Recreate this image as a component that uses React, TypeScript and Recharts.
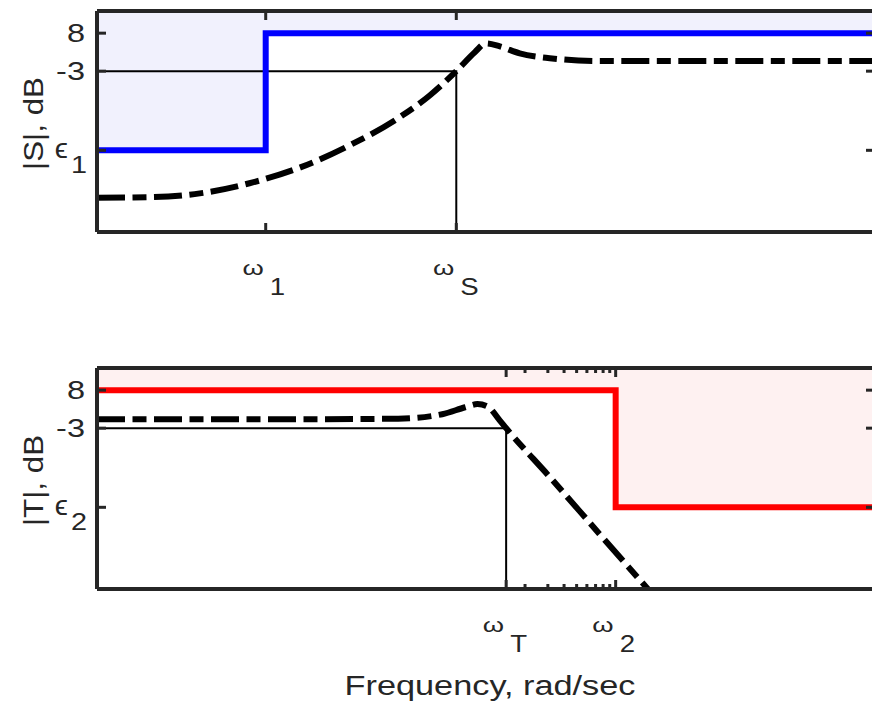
import React from 'react';
import { ComposedChart, Line, Area, XAxis, YAxis } from 'recharts';

const FONT = '"Liberation Sans", Arial, Helvetica, sans-serif';
const INK = '#262626';

// log frequency axis (rad/sec) and magnitude axis (dB)
const freqDomain = [0.001, 1000];
const dbDomain = [-28.4, 6.5];

const w1 = 0.02;
const wS = 0.59;
const wT = 1.43;
const w2 = 10;
const minorTicks = [2, 3, 4, 5, 6, 7, 8, 9];

const dbTicks = [-15.5, -3, 3];
const dbTickLabels = ['ϵ', '-3', '8'];

// |S|: lower bound (blue) and response
const sBoundFreq = [0.001, w1, 1000];
const sBoundDb = [-15.5, 3, 3];
const sFreq = [0.001, 0.0026, 0.0062, 0.015, 0.037, 0.089, 0.215, 0.37, 0.59, 0.82, 1.0, 1.28, 1.82, 3.1, 7.5, 1000];
const sDb = [-23.0, -22.9, -22.3, -20.7, -18.2, -14.7, -10.3, -6.8, -3.0, 0.0, 1.4, 0.9, -0.2, -0.95, -1.4, -1.4];

// |T|: upper bound (red) and response
const tBoundFreq = [0.001, w2, 1000];
const tBoundDb = [3, -15.5, -15.5];
const tFreq = [0.001, 0.036, 0.21, 0.46, 0.69, 0.86, 1.03, 1.28, 1.43, 3.1, 7.5, 44];
const tDb = [-1.6, -1.6, -1.5, -0.8, 0.3, 0.8, 0.4, -1.8, -3.0, -10.7, -19.7, -37.6];

const topTicks = [w1, wS];
const topTickSubs = ['1', 'S'];
const bottomTicks = [wT, ...minorTicks, w2];
const bottomTickSubs = ['T', '', '', '', '', '', '', '', '', '2'];

const W = 880;
const PLOT_LEFT = 97;
const PLOT_RIGHT = 875;

const StretchText = ({ x, y, size, anchor = 'start', sx = 1.3, rotate = false, children }: any) => (
  <text
    transform={`translate(${x} ${y})${rotate ? ' rotate(-90)' : ''} scale(${sx} 1)`}
    textAnchor={anchor}
    fontSize={size}
    fontFamily={FONT}
    fill={INK}
  >
    {children}
  </text>
);

const Panel = ({
  top, height, plotTop, plotBottom, bound, response, guide, color, fill,
  xTicks, xSubs, yName, epsSub, xTitle,
}: any) => {
  const freqTick = (p: any) => {
    const x = p.x;
    const sub = xSubs[xTicks.indexOf(p.payload.value)];
    const len = sub ? 9 : 5;
    return (
      <g>
        <line x1={x} x2={x} y1={plotBottom} y2={plotBottom - len} stroke={INK} strokeWidth={3} />
        <line x1={x} x2={x} y1={plotTop} y2={plotTop + len} stroke={INK} strokeWidth={3} />
        {sub ? (
          <>
            <StretchText x={x - 2} y={plotBottom + 43} size={21} anchor="end">ω</StretchText>
            <StretchText x={x + 4} y={plotBottom + 63} size={23} sx={1.2}>{sub}</StretchText>
          </>
        ) : null}
      </g>
    );
  };

  const dbTick = (p: any) => {
    const y = p.y;
    const lab = dbTickLabels[dbTicks.indexOf(p.payload.value)];
    return (
      <g>
        <line x1={PLOT_LEFT} x2={PLOT_LEFT + 9} y1={y} y2={y} stroke={INK} strokeWidth={3} />
        <line x1={PLOT_RIGHT} x2={PLOT_RIGHT - 9} y1={y} y2={y} stroke={INK} strokeWidth={3} />
        {lab === 'ϵ' ? (
          <>
            <StretchText x={68} y={y + 8} size={27} anchor="end" sx={1.1}>ϵ</StretchText>
            <StretchText x={71} y={y + 23} size={24} sx={1.2}>{epsSub}</StretchText>
          </>
        ) : (
          <StretchText x={85} y={y + 9} size={25} anchor="end">{lab}</StretchText>
        )}
      </g>
    );
  };

  const frame = { stroke: INK, strokeWidth: 4 };

  return (
    <div style={{ position: 'absolute', left: 0, top }}>
      <ComposedChart width={W} height={height} margin={{ top: 0, right: 0, bottom: 0, left: 0 }}>
        <Area
          data={bound}
          dataKey="band"
          type="stepAfter"
          fill={fill}
          fillOpacity={1}
          stroke="none"
          isAnimationActive={false}
        />
        <XAxis
          dataKey="f"
          type="number"
          scale="log"
          domain={freqDomain}
          ticks={xTicks}
          interval={0}
          allowDataOverflow
          height={height - plotBottom}
          tickLine={false}
          axisLine={frame}
          tick={freqTick}
          label={
            xTitle
              ? {
                  content: () => (
                    <StretchText x={490} y={plotBottom + 106} size={27} anchor="middle" sx={1.27}>
                      {xTitle}
                    </StretchText>
                  ),
                }
              : undefined
          }
        />
        <XAxis
          xAxisId="top"
          orientation="top"
          dataKey="f"
          type="number"
          scale="log"
          domain={freqDomain}
          height={plotTop}
          tick={false}
          tickLine={false}
          axisLine={frame}
        />
        <YAxis
          type="number"
          domain={dbDomain}
          ticks={dbTicks}
          interval={0}
          allowDataOverflow
          width={PLOT_LEFT}
          tickLine={false}
          axisLine={frame}
          tick={dbTick}
          label={{
            content: () => (
              <StretchText
                rotate
                x={43}
                y={(plotTop + plotBottom) / 2 + 2}
                size={28}
                anchor="middle"
                sx={1.12}
              >
                {yName}
              </StretchText>
            ),
          }}
        />
        <YAxis yAxisId="right" orientation="right" width={W - PLOT_RIGHT} domain={dbDomain} tick={false} axisLine={false} tickLine={false} />
        <Line data={guide} dataKey="v" type="linear" stroke="#000" strokeWidth={2} dot={false} isAnimationActive={false} />
        <Line data={bound} dataKey="v" type="stepAfter" stroke={color} strokeWidth={6} dot={false} isAnimationActive={false} />
        <Line
          data={response}
          dataKey="v"
          type="monotone"
          stroke="#000"
          strokeWidth={6}
          strokeDasharray="28 7.5 14 7.5"
          dot={false}
          isAnimationActive={false}
        />
      </ComposedChart>
    </div>
  );
};

const App = () => {
  const sBound = sBoundFreq.map((f, i) => ({ f, v: sBoundDb[i], band: [sBoundDb[i], dbDomain[1]] }));
  const sResp = sFreq.map((f, i) => ({ f, v: sDb[i] }));
  const sGuide = [
    { f: freqDomain[0], v: -3 },
    { f: wS, v: -3 },
    { f: wS, v: dbDomain[0] },
  ];
  const tBound = tBoundFreq.map((f, i) => ({ f, v: tBoundDb[i], band: [tBoundDb[i], dbDomain[1]] }));
  const tResp = tFreq.map((f, i) => ({ f, v: tDb[i] }));
  const tGuide = [
    { f: freqDomain[0], v: -3 },
    { f: wT, v: -3 },
    { f: wT, v: dbDomain[0] },
  ];

  return (
    <div style={{ position: 'absolute', left: 0, top: 0, width: 872, height: 704, overflow: 'hidden', background: '#fff' }}>
      <Panel
        top={0}
        height={300}
        plotTop={11}
        plotBottom={232}
        bound={sBound}
        response={sResp}
        guide={sGuide}
        color="#0000ff"
        fill="#f1f1fd"
        xTicks={topTicks}
        xSubs={topTickSubs}
        yName="|S|, dB"
        epsSub="1"
      />
      <Panel
        top={330}
        height={374}
        plotTop={38}
        plotBottom={259}
        bound={tBound}
        response={tResp}
        guide={tGuide}
        color="#ff0000"
        fill="#fef1f1"
        xTicks={bottomTicks}
        xSubs={bottomTickSubs}
        yName="|T|, dB"
        epsSub="2"
        xTitle="Frequency, rad/sec"
      />
    </div>
  );
};

export default App;
